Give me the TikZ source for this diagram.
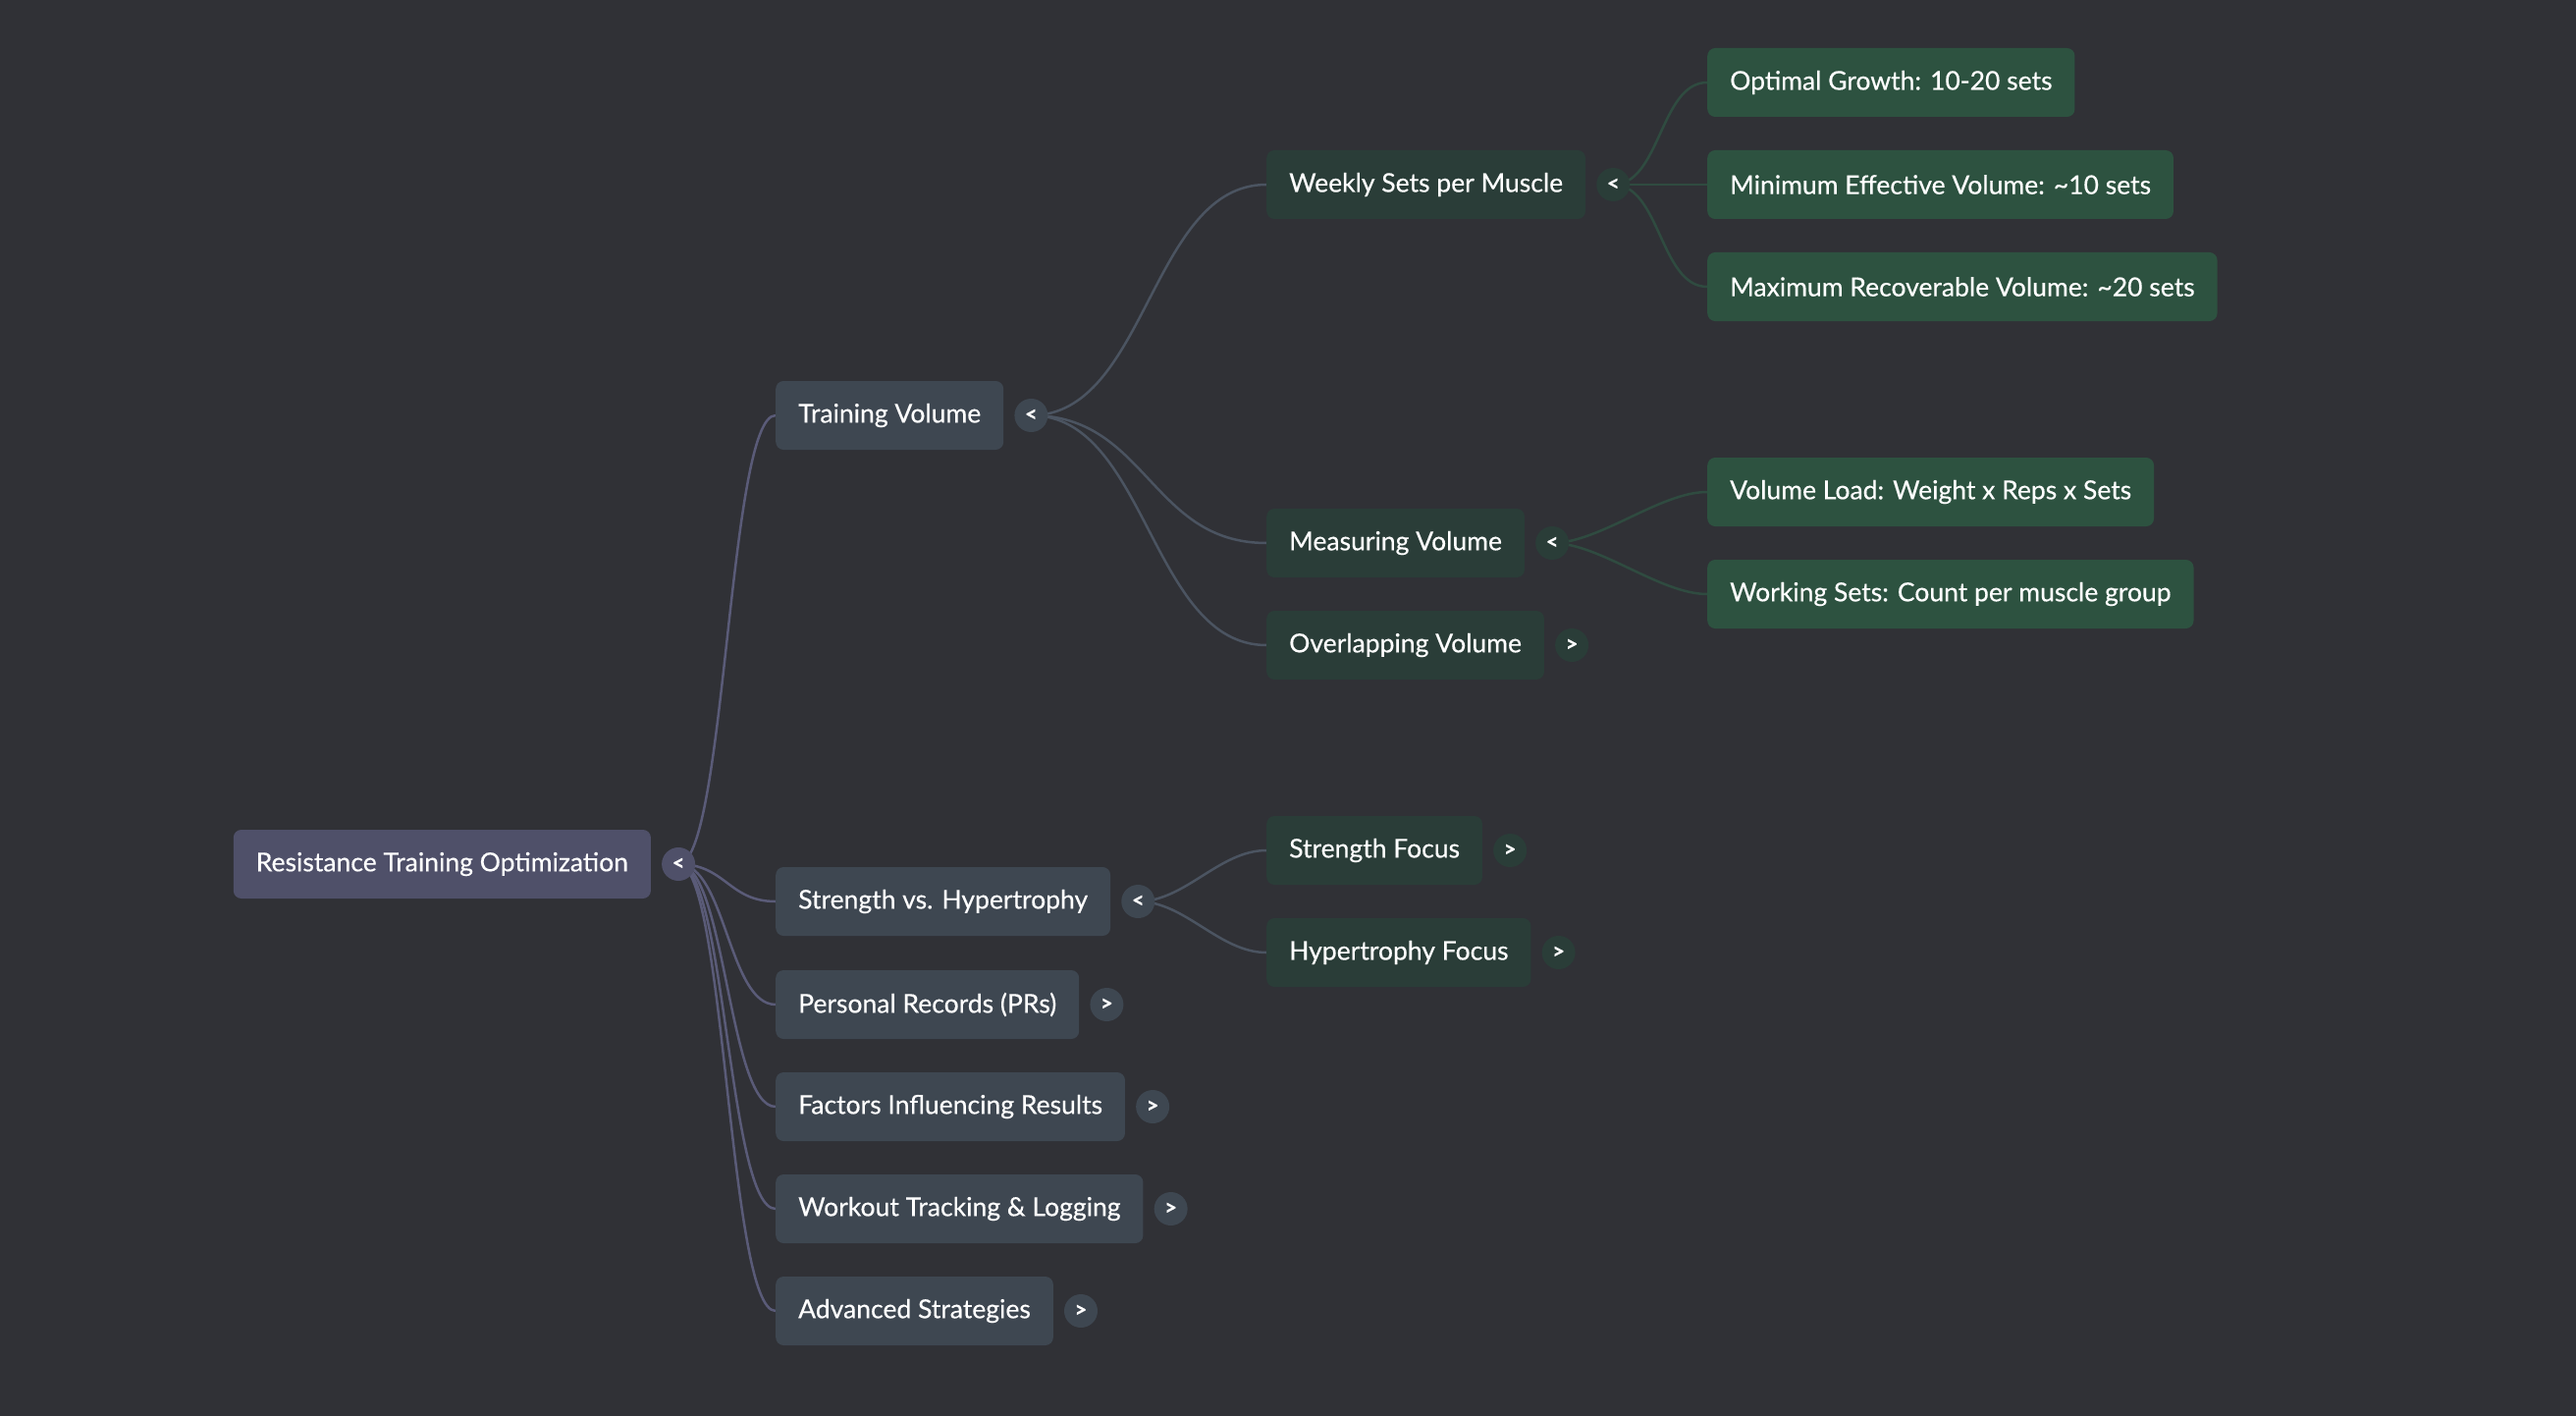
\documentclass[tikz,border=0pt]{standalone}
\usepackage{fontspec}
\setmainfont{Lato}[FakeBold=0.35]
\definecolor{bgc}{HTML}{303136}
\definecolor{rootc}{HTML}{4F5069}
\definecolor{lvone}{HTML}{3E4751}
\definecolor{lvtwo}{HTML}{2A3D38}
\definecolor{lvthree}{HTML}{2D5240}
\definecolor{edgeroot}{HTML}{5A5B78}
\definecolor{edgeone}{HTML}{4B5461}
\definecolor{edgetwo}{HTML}{2F4B40}
\pgfdeclarelayer{back}
\pgfdeclarelayer{edges}
\pgfsetlayers{back,edges,main}
\tikzset{
  box/.style={rounded corners=8pt, anchor=west, minimum height=70pt, inner xsep=23pt, inner ysep=0pt, text=white, font=\fontsize{26.5}{30}\selectfont},
  toggle/.style={circle, minimum size=34pt, inner sep=0pt, text=white, font=\fontsize{22}{22}\selectfont\bfseries},
  eroot/.style={draw=edgeroot, line width=2.5pt},
  eone/.style={draw=edgeone, line width=2.5pt},
  etwo/.style={draw=edgetwo, line width=2.5pt},
}
\begin{document}
\begin{tikzpicture}[x=1pt,y=-1pt]
\begin{pgfonlayer}{back}
\fill[bgc] (0,0) rectangle (2624,1442);
\end{pgfonlayer}
\useasboundingbox (0,0) rectangle (2624,1442);

% root
\node[box, fill=rootc] (root) at (237.6,880) {Resistance Training Optimization};
\node[toggle, fill=rootc] (troot) at ([xshift=28pt]root.east) {<};

% level 1
\node[box, fill=lvone] (tv) at (790,423) {Training Volume};
\node[toggle, fill=lvone] (ttv) at ([xshift=28pt]tv.east) {<};
\node[box, fill=lvone] (svh) at (790,918) {Strength vs. Hypertrophy};
\node[toggle, fill=lvone] (tsvh) at ([xshift=28pt]svh.east) {<};
\node[box, fill=lvone] (pr) at (790,1023) {Personal Records (PRs)};
\node[toggle, fill=lvone] (tpr) at ([xshift=28pt]pr.east) {>};
\node[box, fill=lvone] (fir) at (790,1127) {Factors Influencing Results};
\node[toggle, fill=lvone] (tfir) at ([xshift=28pt]fir.east) {>};
\node[box, fill=lvone] (wtl) at (790,1231) {Workout Tracking \& Logging};
\node[toggle, fill=lvone] (twtl) at ([xshift=28pt]wtl.east) {>};
\node[box, fill=lvone] (as) at (790,1335) {Advanced Strategies};
\node[toggle, fill=lvone] (tas) at ([xshift=28pt]as.east) {>};

% level 2
\node[box, fill=lvtwo] (ws) at (1290,188) {Weekly Sets per Muscle};
\node[toggle, fill=lvtwo] (tws) at ([xshift=28pt]ws.east) {<};
\node[box, fill=lvtwo] (mv) at (1290,553) {Measuring Volume};
\node[toggle, fill=lvtwo] (tmv) at ([xshift=28pt]mv.east) {<};
\node[box, fill=lvtwo] (ov) at (1290,657) {Overlapping Volume};
\node[toggle, fill=lvtwo] (tov) at ([xshift=28pt]ov.east) {>};
\node[box, fill=lvtwo] (sf) at (1290,866) {Strength Focus};
\node[toggle, fill=lvtwo] (tsf) at ([xshift=28pt]sf.east) {>};
\node[box, fill=lvtwo] (hf) at (1290,970) {Hypertrophy Focus};
\node[toggle, fill=lvtwo] (thf) at ([xshift=28pt]hf.east) {>};

% level 3
\node[box, fill=lvthree] (og) at (1739,84) {Optimal Growth: 10-20 sets};
\node[box, fill=lvthree] (mev) at (1739,188) {Minimum Effective Volume: \textasciitilde10 sets};
\node[box, fill=lvthree] (mrv) at (1739,292) {Maximum Recoverable Volume: \textasciitilde20 sets};
\node[box, fill=lvthree] (vl) at (1739,501) {Volume Load: Weight x Reps x Sets};
\node[box, fill=lvthree] (wsc) at (1739,605) {Working Sets: Count per muscle group};

\begin{pgfonlayer}{edges}
\foreach \c in {tv,svh,pr,fir,wtl,as}
  \draw[eroot] (troot.center) .. controls +(48,0) and +(-48,0) .. (\c.west);
\foreach \c in {ws,mv,ov}
  \draw[eone] (ttv.center) .. controls +(118,0) and +(-118,0) .. (\c.west);
\foreach \c in {sf,hf}
  \draw[eone] (tsvh.center) .. controls +(48,0) and +(-48,0) .. (\c.west);
\foreach \c in {og,mev,mrv}
  \draw[etwo] (tws.center) .. controls +(48,0) and +(-48,0) .. (\c.west);
\foreach \c in {vl,wsc}
  \draw[etwo] (tmv.center) .. controls +(48,0) and +(-48,0) .. (\c.west);
\end{pgfonlayer}
\end{tikzpicture}
\end{document}
